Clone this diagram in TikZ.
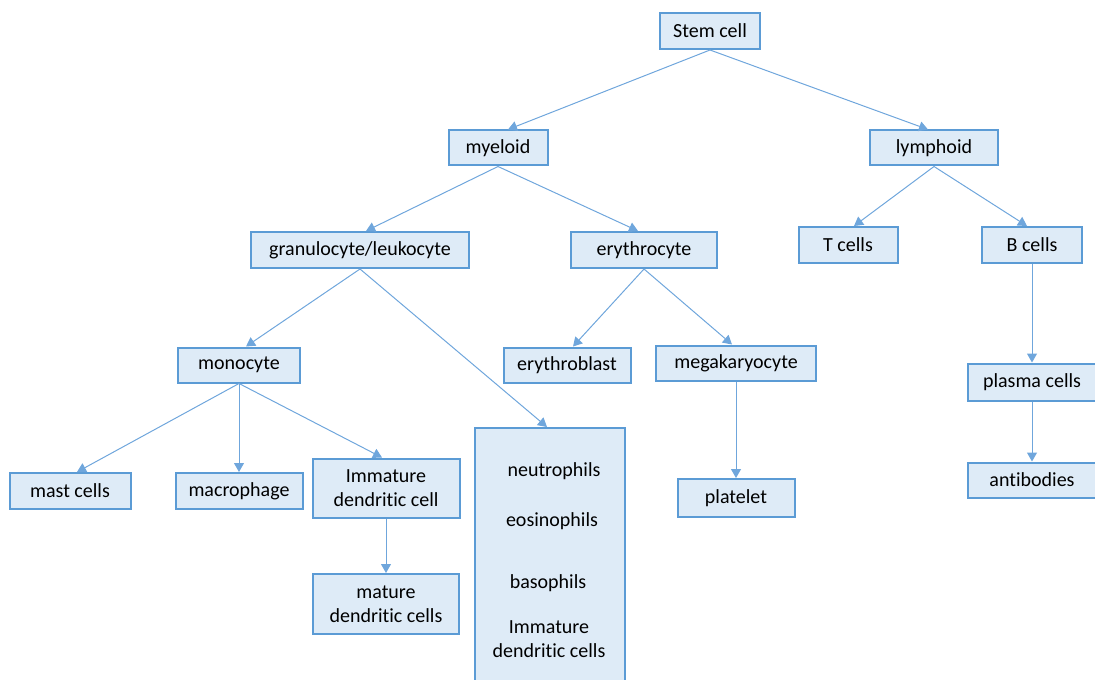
\documentclass[tikz,border=0pt]{standalone}
\usepackage{fontspec}
\setmainfont{Carlito}[Ligatures=NoCommon]
\usetikzlibrary{arrows.meta}
\definecolor{cellfill}{HTML}{DEEBF7}
\definecolor{celldraw}{HTML}{5B9BD5}
\definecolor{linkcol}{HTML}{6FA6DC}

\begin{document}
\begin{tikzpicture}[x=0.5pt, y=-0.5pt,
    font=\fontsize{10}{11.8}\selectfont,
    cell/.style={draw=celldraw, fill=cellfill, line width=1pt, inner sep=0pt, align=center},
    link/.style={draw=linkcol, line width=0.5pt, -{Triangle[width=5pt,length=4.5pt]}}]
    \useasboundingbox (0,0) rectangle (1095,679);

    % top levels
    \node[cell, minimum width=50pt, minimum height=18pt] (stem) at (710,31) {Stem cell};
    \node[cell, minimum width=49.5pt, minimum height=17.5pt] (myeloid) at (498,148) {myeloid};
    \node[cell, minimum width=64pt, minimum height=17.5pt] (lymphoid) at (934,148) {lymphoid};

    \node[cell, minimum width=109pt, minimum height=18pt] (granleuk) at (360,250) {granulocyte/leukocyte};
    \node[cell, minimum width=73pt, minimum height=18pt] (erythro) at (644,250) {erythrocyte};
    \node[cell, minimum width=49.5pt, minimum height=18pt] (tcells) at (848,245) {T cells};
    \node[cell, minimum width=50pt, minimum height=18pt] (bcells) at (1032,245) {B cells};

    % third row
    \node[cell, minimum width=61pt, minimum height=17.5pt] (monocyte) at (239,365) {monocyte};
    \node[cell, minimum width=63.5pt, minimum height=17.5pt] (erythroblast) at (567,365) {erythroblast};
    \node[cell, minimum width=80pt, minimum height=17.5pt] (megakaryo) at (736,363) {megakaryocyte};
    \node[cell, minimum width=64.5pt, minimum height=18.5pt] (plasma) at (1032,382) {plasma cells};

    % lower rows
    \node[cell, minimum width=60.5pt, minimum height=18pt] (mast) at (70,491) {mast cells};
    \node[cell, minimum width=63.5pt, minimum height=18pt] (macrophage) at (239,491) {macrophage};
    \node[cell, minimum width=73.5pt, minimum height=29.5pt] (immdc) at (386,488) {Immature\\dendritic cell};
    \node[cell, minimum width=73pt, minimum height=30pt] (maturedc) at (386,604) {mature\\dendritic cells};
    \node[cell, minimum width=58.5pt, minimum height=19pt] (platelet) at (736,498) {platelet};
    \node[cell, minimum width=64.5pt, minimum height=17.5pt] (antibodies) at (1032,480) {antibodies};

    % granulocyte box, runs off the bottom
    \node[cell, minimum width=75pt, minimum height=136pt] (granbox) at (550,564) {};
    \node (neutro) at (554,471) {neutrophils};
    \node (eosino) at (552,521) {eosinophils};
    \node (baso) at (548,583) {basophils};
    \node[align=center] (immdcs) at (549,639) {Immature\\dendritic cells};

    % connectors
    \draw[link] (stem.south) -- ([xshift=5pt]myeloid.north);
    \draw[link] (stem.south) -- ([xshift=-3pt]lymphoid.north);
    \draw[link] (myeloid.south) -- ([xshift=3pt]granleuk.north);
    \draw[link] (myeloid.south) -- ([xshift=-3pt]erythro.north);
    \draw[link] (lymphoid.south) -- ([xshift=3pt]tcells.north);
    \draw[link] (lymphoid.south) -- ([xshift=-2.5pt]bcells.north);
    \draw[link] (granleuk.south) -- ([xshift=3.5pt]monocyte.north);
    \draw[link] (granleuk.south) -- ([xshift=-1.5pt]granbox.north);
    \draw[link] (erythro.south) -- ([xshift=3pt]erythroblast.north);
    \draw[link] (erythro.south) -- ([xshift=-2pt]megakaryo.north);
    \draw[link] (monocyte.south) -- ([xshift=3.5pt]mast.north);
    \draw[link] (monocyte.south) -- (macrophage.north);
    \draw[link] (monocyte.south) -- ([xshift=-2pt]immdc.north);
    \draw[link] (immdc.south) -- (maturedc.north);
    \draw[link] (megakaryo.south) -- (platelet.north);
    \draw[link] (bcells.south) -- (plasma.north);
    \draw[link] (plasma.south) -- (antibodies.north);
\end{tikzpicture}
\end{document}
